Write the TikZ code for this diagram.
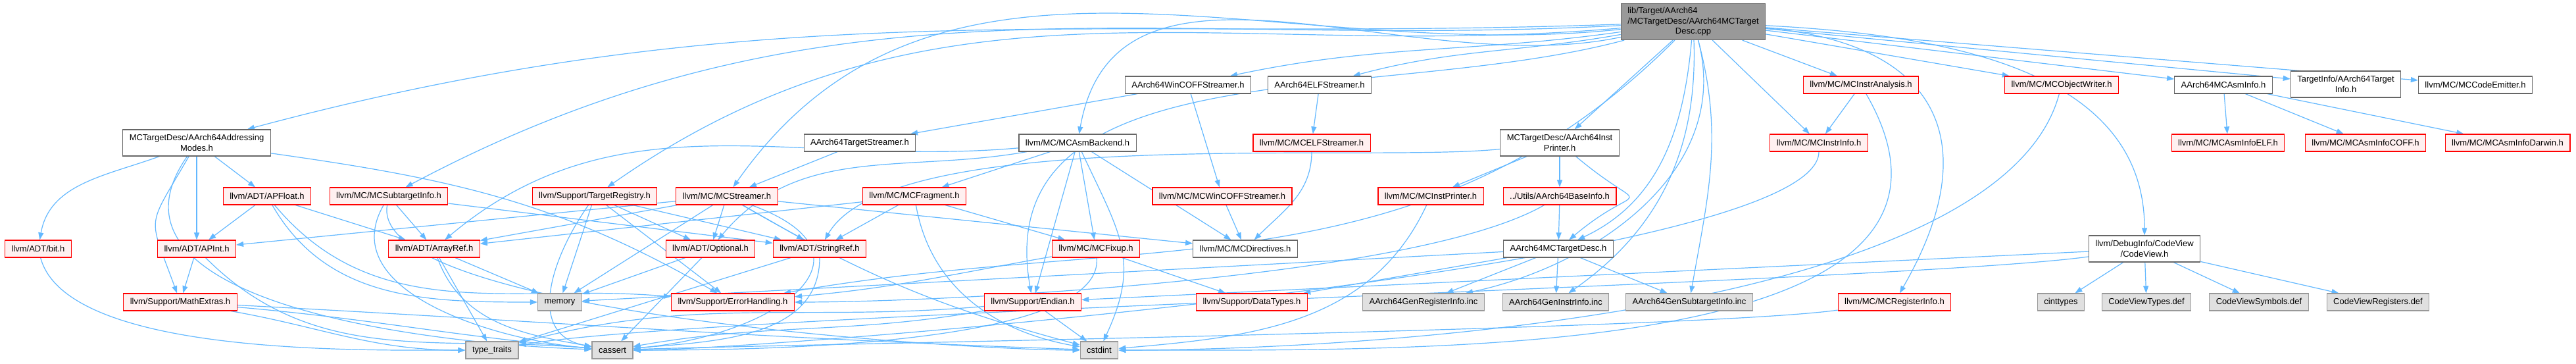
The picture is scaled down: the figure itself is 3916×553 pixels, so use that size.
\documentclass[tikz,border=0pt]{standalone}
\usepackage{fontspec}
\setmainfont{Liberation Sans}
\usepackage{tikz}
\usetikzlibrary{arrows.meta}

\definecolor{edgeblue}{HTML}{63B8FF}
\definecolor{truncfill}{HTML}{FFF0F0}
\definecolor{sysfill}{HTML}{E0E0E0}
\definecolor{mainfill}{HTML}{999999}
\definecolor{framegrey}{HTML}{666666}
\definecolor{sysframe}{HTML}{999999}

\pgfdeclarelayer{edges}
\pgfsetlayers{edges,main}

\begin{document}
\begin{tikzpicture}[
    x=0.25pt, y=-0.25pt,
    >={Triangle[length=2.75pt,width=2pt]},
    every node/.style={font=\fontsize{3.25}{3.875}\selectfont, inner xsep=2.5pt, inner ysep=0.75pt, minimum height=6.5pt, line width=0.3pt},
    srcfile/.style={rectangle, draw=framegrey, fill=mainfill, minimum height=13.75pt},
    header/.style={rectangle, draw=framegrey, fill=white},
    truncated/.style={rectangle, draw=red, fill=truncfill},
    syshdr/.style={rectangle, draw=sysframe, fill=sysfill},
    twoline/.style={align=center, minimum height=10pt},
    dep/.style={->, draw=edgeblue, line width=0.3pt}
]
\useasboundingbox (0,0) rectangle (3916,553);

% Source file
\node[srcfile] (main) at (2574,33) {\begin{tabular}{@{}l@{}}lib/Target/AArch64\\/MCTargetDesc/AArch64MCTarget\\\multicolumn{1}{@{}c@{}}{Desc.cpp}\end{tabular}};

% Row 2
\node[header] (wincoff) at (1806,129) {AArch64WinCOFFStreamer.h};
\node[header] (elfstr) at (2006,129) {AArch64ELFStreamer.h};
\node[truncated] (instran) at (2829,129) {llvm/MC/MCInstrAnalysis.h};
\node[truncated] (objwriter) at (3134,129) {llvm/MC/MCObjectWriter.h};
\node[header] (asminfo) at (3380,129) {AArch64MCAsmInfo.h};
\node[header, twoline] (targetinfo) at (3566,128) {TargetInfo/AArch64Target\\Info.h};
\node[header] (codeemitter) at (3763,129) {llvm/MC/MCCodeEmitter.h};

% Row 3
\node[header, twoline] (addrmodes) at (299,217) {MCTargetDesc/AArch64Addressing\\Modes.h};
\node[header] (tstreamer) at (1307,217) {AArch64TargetStreamer.h};
\node[header] (asmbackend) at (1638,217) {llvm/MC/MCAsmBackend.h};
\node[truncated] (elfstreamer) at (1994,217) {llvm/MC/MCELFStreamer.h};
\node[header, twoline] (instprinter) at (2371,217) {MCTargetDesc/AArch64Inst\\Printer.h};
\node[truncated] (instrinfo) at (2765,217) {llvm/MC/MCInstrInfo.h};
\node[truncated] (asminfoelf) at (3387,217) {llvm/MC/MCAsmInfoELF.h};
\node[truncated] (asminfocoff) at (3596,217) {llvm/MC/MCAsmInfoCOFF.h};
\node[truncated] (asminfodarwin) at (3812,217) {llvm/MC/MCAsmInfoDarwin.h};

% Row 4
\node[truncated] (apfloat) at (406,298) {llvm/ADT/APFloat.h};
\node[truncated] (subtarget) at (591,298) {llvm/MC/MCSubtargetInfo.h};
\node[truncated] (targetreg) at (904,298) {llvm/Support/TargetRegistry.h};
\node[truncated] (streamer) at (1105,298) {llvm/MC/MCStreamer.h};
\node[truncated] (fragment) at (1390,298) {llvm/MC/MCFragment.h};
\node[truncated] (wincoffstreamer) at (1858,298) {llvm/MC/MCWinCOFFStreamer.h};
\node[truncated] (instprinterbase) at (2175,298) {llvm/MC/MCInstPrinter.h};
\node[truncated] (baseinfo) at (2371,298) {../Utils/AArch64BaseInfo.h};

% Row 5
\node[truncated] (bit) at (58,378) {llvm/ADT/bit.h};
\node[truncated] (apint) at (299,378) {llvm/ADT/APInt.h};
\node[truncated] (arrayref) at (660,378) {llvm/ADT/ArrayRef.h};
\node[truncated] (optional) at (1080,378) {llvm/ADT/Optional.h};
\node[truncated] (stringref) at (1246,378) {llvm/ADT/StringRef.h};
\node[truncated] (fixup) at (1666,378) {llvm/MC/MCFixup.h};
\node[header] (directives) at (1893,378) {llvm/MC/MCDirectives.h};
\node[header] (mcdesc) at (2369,378) {AArch64MCTargetDesc.h};
\node[header, twoline] (codeview) at (3260,378) {llvm/DebugInfo/CodeView\\/CodeView.h};

% Row 6
\node[truncated] (mathextras) at (274,459) {llvm/Support/MathExtras.h};
\node[syshdr] (memory) at (851,459) {memory};
\node[truncated] (errorhandling) at (1114,459) {llvm/Support/ErrorHandling.h};
\node[truncated] (endian) at (1570,459) {llvm/Support/Endian.h};
\node[truncated] (datatypes) at (1903,459) {llvm/Support/DataTypes.h};
\node[syshdr] (genreginfo) at (2164,459) {AArch64GenRegisterInfo.inc};
\node[syshdr] (geninstrinfo) at (2365,459) {AArch64GenInstrInfo.inc};
\node[syshdr] (gensubtarget) at (2568,459) {AArch64GenSubtargetInfo.inc};
\node[truncated] (reginfo) at (2880,459) {llvm/MC/MCRegisterInfo.h};
\node[syshdr] (cinttypes) at (3133,459) {cinttypes};
\node[syshdr] (cvtypes) at (3263,459) {CodeViewTypes.def};
\node[syshdr] (cvsymbols) at (3434,459) {CodeViewSymbols.def};
\node[syshdr] (cvregisters) at (3615,459) {CodeViewRegisters.def};

% Row 7
\node[syshdr] (typetraits) at (748,532) {type\_traits};
\node[syshdr] (cassert) at (931,532) {cassert};
\node[syshdr] (cstdint) at (1671,532) {cstdint};

\begin{pgfonlayer}{edges}
% Includes of the source file
\draw[dep] (main) to[out=182,in=15] (addrmodes);
\draw[dep] (main) to[out=183,in=28] (subtarget);
\draw[dep] (main) to[out=185,in=35] (targetreg);
\draw[dep] (main) to[out=186,in=55] (streamer);
\draw[dep] (main) to[out=188,in=12] (wincoff);
\draw[dep] (main) to[out=190,in=15] (elfstr);
\draw[dep] (main) to[out=192,in=80] (asmbackend);
\draw[dep] (main) to[out=195,in=100] (endian);
\draw[dep] (main) to[out=225,in=10] (errorhandling);
\draw[dep] (main) -- (instprinter);
\draw[dep] (main) to[out=-95,in=25] (mcdesc);
\draw[dep] (main) to[out=-75,in=12] (genreginfo);
\draw[dep] (main) to[out=-88,in=35] (geninstrinfo);
\draw[dep] (main) to[out=-75,in=80] (gensubtarget);
\draw[dep] (main) -- (instran);
\draw[dep] (main) -- (instrinfo);
\draw[dep] (main) to[out=-5,in=60,looseness=1.5] (reginfo);
\draw[dep] (main) -- (objwriter);
\draw[dep] (main) to[out=-3,in=90] (codeview);
\draw[dep] (main) -- (asminfo);
\draw[dep] (main) -- (targetinfo);
\draw[dep] (main) -- (codeemitter);

% AArch64AddressingModes.h
\draw[dep] (addrmodes) to[out=-160,in=80] (bit);
\draw[dep] (addrmodes) -- (apint);
\draw[dep] (addrmodes) -- (apfloat);
\draw[dep] (addrmodes) to[out=-120,in=110,looseness=1.6] (mathextras);
\draw[dep] (addrmodes) to[out=-8,in=150] (errorhandling);
\draw[dep] (addrmodes) to[out=-125,in=178] (cassert);

% ADT and Support headers
\draw[dep] (apfloat) -- (apint);
\draw[dep] (apfloat) -- (arrayref);
\draw[dep] (apfloat) to[out=-50,in=175] (errorhandling);
\draw[dep] (apfloat) to[out=-60,in=180] (memory);
\draw[dep] (apint) -- (mathextras);
\draw[dep] (apint) to[out=-45,in=175] (cassert);
\draw[dep] (mathextras) to[out=-10,in=180] (typetraits);
\draw[dep] (mathextras) to[out=-5,in=175] (cassert);
\draw[dep] (mathextras) to[out=-3,in=178] (cstdint);
\draw[dep] (bit) to[out=-75,in=180,looseness=0.6] (typetraits);
\draw[dep] (arrayref) -- (memory);
\draw[dep] (arrayref) -- (typetraits);
\draw[dep] (arrayref) to[out=-70,in=170] (cassert);
\draw[dep] (optional) -- (memory);
\draw[dep] (optional) -- (cassert);
\draw[dep] (stringref) -- (typetraits);
\draw[dep] (stringref) to[out=-90,in=5] (cassert);
\draw[dep] (endian) -- (cstdint);
\draw[dep] (endian) to[out=185,in=15] (typetraits);
\draw[dep] (endian) to[out=190,in=10] (cassert);

% MC headers
\draw[dep] (subtarget) -- (arrayref);
\draw[dep] (subtarget) -- (stringref);
\draw[dep] (subtarget) to[out=-120,in=175] (cassert);
\draw[dep] (subtarget) to[out=-100,in=180,looseness=0.4] (cstdint);
\draw[dep] (targetreg) -- (memory);
\draw[dep] (targetreg) to[out=-125,in=170,looseness=1.2] (cassert);
\draw[dep] (targetreg) -- (errorhandling);
\draw[dep] (targetreg) -- (optional);
\draw[dep] (targetreg) -- (stringref);
\draw[dep] (streamer) -- (apint);
\draw[dep] (streamer) -- (arrayref);
\draw[dep] (streamer) -- (memory);
\draw[dep] (streamer) -- (optional);
\draw[dep] (streamer) -- (stringref);
\draw[dep] (streamer) -- (directives);
\draw[dep] (streamer) to[out=-20,in=5,looseness=2] (cassert);
\draw[dep] (streamer) to[out=-30,in=165] (cstdint);
\draw[dep] (tstreamer) -- (streamer);
\draw[dep] (fragment) -- (arrayref);
\draw[dep] (fragment) -- (stringref);
\draw[dep] (fragment) -- (fixup);
\draw[dep] (fragment) to[out=-80,in=170] (cstdint);
\draw[dep] (asmbackend) to[out=185,in=40] (arrayref);
\draw[dep] (asmbackend) to[out=190,in=50] (optional);
\draw[dep] (asmbackend) -- (fragment);
\draw[dep] (asmbackend) -- (endian);
\draw[dep] (asmbackend) -- (fixup);
\draw[dep] (asmbackend) to[out=-65,in=65,looseness=1.2] (cstdint);
\draw[dep] (asmbackend) -- (directives);
\draw[dep] (fixup) to[out=190,in=5] (errorhandling);
\draw[dep] (fixup) -- (datatypes);
\draw[dep] (fixup) to[out=-85,in=0,looseness=0.5] (cassert);
\draw[dep] (instran) -- (instrinfo);
\draw[dep] (instran) to[out=-60,in=0] (cstdint);
\draw[dep] (instrinfo) to[out=-90,in=0,looseness=0.25] (cassert);
\draw[dep] (reginfo) to[out=188,in=2,looseness=0.3] (cassert);
\draw[dep] (objwriter) to[out=-105,in=0,looseness=0.6] (cstdint);
\draw[dep] (instprinterbase) to[out=-115,in=5] (cstdint);

% Streamers
\draw[dep] (wincoff) -- (tstreamer);
\draw[dep] (wincoff) -- (wincoffstreamer);
\draw[dep] (elfstr) -- (elfstreamer);
\draw[dep] (elfstreamer) to[out=-90,in=45] (directives);
\draw[dep] (wincoffstreamer) -- (directives);

% AArch64 target headers
\draw[dep] (instprinter) to[out=186,in=60,looseness=0.5] (stringref);
\draw[dep] (instprinter) -- (instprinterbase);
\draw[dep] (instprinter) -- (baseinfo);
\draw[dep] (instprinter) to[out=-40,in=40,looseness=3] (mcdesc);
\draw[dep] (baseinfo) -- (mcdesc);
\draw[dep] (baseinfo) to[out=-150,in=0,looseness=0.5] (errorhandling);
\draw[dep] (mcdesc) -- (datatypes);
\draw[dep] (mcdesc) -- (memory);
\draw[dep] (mcdesc) -- (genreginfo);
\draw[dep] (mcdesc) -- (geninstrinfo);
\draw[dep] (mcdesc) -- (gensubtarget);
\draw[dep] (asminfo) -- (asminfoelf);
\draw[dep] (asminfo) -- (asminfocoff);
\draw[dep] (asminfo) -- (asminfodarwin);

% CodeView
\draw[dep] (codeview) -- (cinttypes);
\draw[dep] (codeview) -- (cvtypes);
\draw[dep] (codeview) -- (cvsymbols);
\draw[dep] (codeview) -- (cvregisters);
\draw[dep] (codeview) -- (endian);
\draw[dep] (codeview) to[out=188,in=10,looseness=0.3] (typetraits);
\end{pgfonlayer}

\end{tikzpicture}
\end{document}
